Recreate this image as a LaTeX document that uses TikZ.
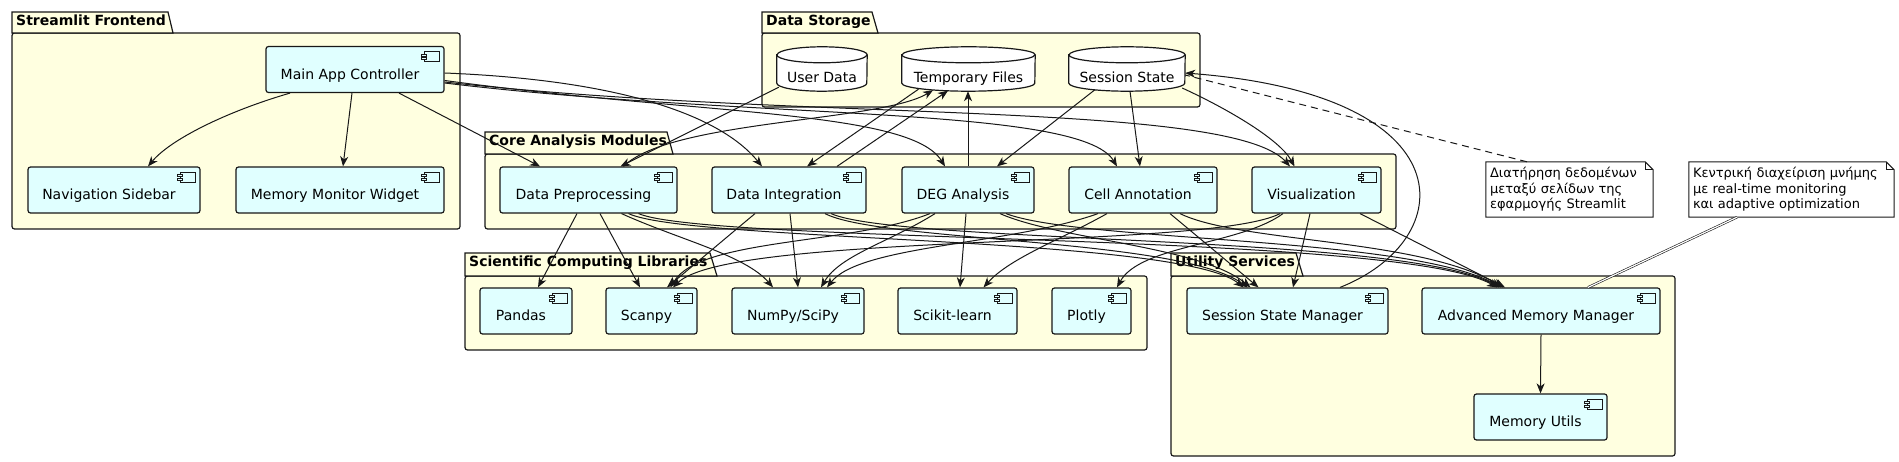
\documentclass[tikz,border=0pt]{standalone}
\usepackage{fontspec}
\setmainfont{DejaVu Sans}
\usetikzlibrary{arrows.meta,backgrounds}

\definecolor{pkgfill}{HTML}{FFFFE0}
\definecolor{compfill}{HTML}{E0FFFF}
\definecolor{linec}{HTML}{181818}

\tikzset{
 pkgbox/.style={draw=linec,line width=1.2pt,fill=pkgfill},
 pkgtitle/.style={font=\fontsize{14pt}{16pt}\selectfont\bfseries,inner sep=0pt,anchor=base west},
 icon/.style={draw=linec,line width=0.8pt,fill=compfill,sharp corners},
 comp/.style={draw=linec,line width=1.2pt,fill=compfill,rounded corners=2.5pt,inner sep=3pt,
  minimum height=46pt,text height=19.5pt,text depth=0pt,font=\fontsize{14pt}{16pt}\selectfont,
  execute at begin node={\hspace*{-10pt}},
  path picture={
   \draw[icon] ([xshift=-20pt,yshift=-5pt]path picture bounding box.north east) rectangle ([xshift=-5pt,yshift=-15pt]path picture bounding box.north east);
   \draw[icon] ([xshift=-22.5pt,yshift=-7.5pt]path picture bounding box.north east) rectangle ([xshift=-17.5pt,yshift=-9.5pt]path picture bounding box.north east);
   \draw[icon] ([xshift=-22.5pt,yshift=-11pt]path picture bounding box.north east) rectangle ([xshift=-17.5pt,yshift=-13pt]path picture bounding box.north east);
  }},
 dbtext/.style={inner sep=3pt,minimum height=44pt,text height=28pt,text depth=0pt,font=\fontsize{14pt}{16pt}\selectfont},
 dbline/.style={draw=linec,line width=1.2pt,fill=white},
 notebox/.style={fill=white,inner ysep=0pt,inner xsep=4pt,align=left,minimum height=55pt,font=\fontsize{13pt}{15.5pt}\selectfont},
 noteline/.style={draw=linec,line width=1pt},
 dep/.style={draw=linec,line width=1pt,-{Stealth[length=10pt,width=8pt,inset=3pt]}},
}

\begin{document}
\begin{tikzpicture}[x=1pt,y=-1pt]
\useasboundingbox (0,0) rectangle (1899,462);

\begin{scope}[on background layer]
\draw[pkgbox,rounded corners=2.5pt] (12,33) rectangle (460,229);
\draw[pkgbox] (12,33) -- (12,12) -- (168,12) -- (173,33) -- cycle;
\draw[pkgbox,rounded corners=2.5pt] (762,33) rectangle (1200,107);
\draw[pkgbox] (762,33) -- (762,12) -- (872,12) -- (878,33) -- cycle;
\draw[pkgbox,rounded corners=2.5pt] (485,154) rectangle (1396,229);
\draw[pkgbox] (485,154) -- (485,132) -- (667,132) -- (673,154) -- cycle;
\draw[pkgbox,rounded corners=2.5pt] (465,276) rectangle (1147,350);
\draw[pkgbox] (465,276) -- (465,253) -- (710,253) -- (717,276) -- cycle;
\draw[pkgbox,rounded corners=2.5pt] (1171,276) rectangle (1675,456);
\draw[pkgbox] (1171,276) -- (1171,253) -- (1296,253) -- (1303,276) -- cycle;
\end{scope}

\node[pkgtitle] (tfrontend) at (16,26) {Streamlit Frontend};
\node[pkgtitle] (tstorage) at (766,26) {Data Storage};
\node[pkgtitle] (tcore) at (489,146) {Core Analysis Modules};
\node[pkgtitle] (tlibs) at (469,267) {Scientific Computing Libraries};
\node[pkgtitle] (tutil) at (1175,267) {Utility Services};

\node[comp,minimum width=178pt] (mainapp) at (355,69.5) {Main App Controller};
\node[comp,minimum width=172pt] (navbar) at (114,190) {Navigation Sidebar};
\node[comp,minimum width=208pt] (memwidget) at (340,190) {Memory Monitor Widget};

\node[comp,minimum width=177pt] (preproc) at (588.5,190) {Data Preprocessing};
\node[comp,minimum width=154pt] (integ) at (789,190) {Data Integration};
\node[comp,minimum width=132pt] (degmod) at (968,190) {DEG Analysis};
\node[comp,minimum width=148pt] (annot) at (1143,190) {Cell Annotation};
\node[comp,minimum width=129pt] (vizmod) at (1316.5,190) {Visualization};

\node[comp,minimum width=92pt] (pandas) at (526,311) {Pandas};
\node[comp,minimum width=91pt] (scanpy) at (651.5,311) {Scanpy};
\node[comp,minimum width=132pt] (numpy) at (798,311) {NumPy/SciPy};
\node[comp,minimum width=119pt] (sklearn) at (957.5,311) {Scikit-learn};
\node[comp,minimum width=79pt] (plotly) at (1091.5,311) {Plotly};

\node[comp,minimum width=201pt] (sessmgr) at (1287.5,311) {Session State Manager};
\node[comp,minimum width=238pt] (memmgr) at (1541,311) {Advanced Memory Manager};
\node[comp,minimum width=133pt] (memutils) at (1540.5,417) {Memory Utils};

\node[dbtext,minimum width=90pt] (userdata) at (822,69) {User Data};
\node[dbtext,minimum width=133pt] (tmpfiles) at (968.5,69) {Temporary Files};
\node[dbtext,minimum width=116pt] (sessstate) at (1127,69) {Session State};

\begin{scope}[on background layer]
\draw[dbline] ([yshift=-8pt]userdata.north west) -- ([yshift=8pt]userdata.south west) arc[start angle=180,end angle=360,x radius=45pt,y radius=8pt] -- ([yshift=-8pt]userdata.north east) arc[start angle=0,end angle=180,x radius=45pt,y radius=8pt] -- cycle;
\draw[dbline,fill=none] ([yshift=-8pt]userdata.north west) arc[start angle=180,end angle=360,x radius=45pt,y radius=8pt];
\draw[dbline] ([yshift=-8pt]tmpfiles.north west) -- ([yshift=8pt]tmpfiles.south west) arc[start angle=180,end angle=360,x radius=66.5pt,y radius=8pt] -- ([yshift=-8pt]tmpfiles.north east) arc[start angle=0,end angle=180,x radius=66.5pt,y radius=8pt] -- cycle;
\draw[dbline,fill=none] ([yshift=-8pt]tmpfiles.north west) arc[start angle=180,end angle=360,x radius=66.5pt,y radius=8pt];
\draw[dbline] ([yshift=-8pt]sessstate.north west) -- ([yshift=8pt]sessstate.south west) arc[start angle=180,end angle=360,x radius=58pt,y radius=8pt] -- ([yshift=-8pt]sessstate.north east) arc[start angle=0,end angle=180,x radius=58pt,y radius=8pt] -- cycle;
\draw[dbline,fill=none] ([yshift=-8pt]sessstate.north west) arc[start angle=180,end angle=360,x radius=58pt,y radius=8pt];
\end{scope}

\node[notebox,minimum width=167pt,text width=159pt] (note1) at (1569.5,189.5) {Διατήρηση δεδομένων\\μεταξύ σελίδων της\\εφαρμογής Streamlit};
\draw[noteline] (note1.north west) -- ([xshift=-8pt]note1.north east) -- ([yshift=-8pt]note1.north east) -- (note1.south east) -- (note1.south west) -- cycle;
\draw[noteline] ([xshift=-8pt]note1.north east) |- ([yshift=-8pt]note1.north east);
\node[notebox,minimum width=205pt,text width=197pt] (note2) at (1791.5,189.5) {Κεντρική διαχείριση μνήμης\\με real-time monitoring\\και adaptive optimization};
\draw[noteline] (note2.north west) -- ([xshift=-8pt]note2.north east) -- ([yshift=-8pt]note2.north east) -- (note2.south east) -- (note2.south west) -- cycle;
\draw[noteline] ([xshift=-8pt]note2.north east) |- ([yshift=-8pt]note2.north east);

\draw[dep] ([xshift=-65pt]mainapp.south) .. controls (225,112) and (170,140) .. ([xshift=34pt]navbar.north);
\draw[dep] ([xshift=-3pt]mainapp.south) -- ([xshift=3pt]memwidget.north);
\draw[dep] ([xshift=44pt]mainapp.south) -- ([xshift=-48.5pt]preproc.north);
\draw[dep] ([yshift=-3.5pt]mainapp.east) .. controls (620,80) and (720,115) .. ([xshift=-27pt]integ.north);
\draw[dep] ([yshift=-11pt]mainapp.east) .. controls (700,115) and (910,110) .. ([xshift=-23pt]degmod.north);
\draw[dep] ([yshift=-13.5pt]mainapp.east) .. controls (750,120) and (1080,105) .. ([xshift=-26pt]annot.north);
\draw[dep] ([yshift=-12.5pt]mainapp.east) .. controls (800,122) and (1230,100) .. ([xshift=-26.5pt]vizmod.north);

\draw[dep] ([xshift=2pt,yshift=4pt]userdata.south west) -- ([xshift=32pt]preproc.north);
\draw[dep] ([xshift=35pt]preproc.north) .. controls (670,120) and (880,122) .. ([xshift=-35.5pt,yshift=1pt]tmpfiles.south);
\draw[dep] ([xshift=48pt]integ.north) -- ([xshift=-20.5pt,yshift=0.5pt]tmpfiles.south);
\draw[dep] ([xshift=-50pt,yshift=2pt]tmpfiles.south) -- ([xshift=18pt]integ.north);
\draw[dep] (degmod.north) -- (degmod.north |- tmpfiles.south);
\draw[dep] ([xshift=-32pt,yshift=1.5pt]sessstate.south) -- ([xshift=29pt]degmod.north);
\draw[dep] ([xshift=3pt]sessstate.south) -- ([xshift=-3pt]annot.north);
\draw[dep] ([xshift=-3pt,yshift=-19pt]sessstate.east) .. controls (1230,110) and (1280,140) .. ([xshift=-22pt]vizmod.north);
\draw[dep] ([xshift=52.5pt]sessmgr.north) .. controls (1460,240) and (1470,95) .. ([yshift=-4pt]sessstate.east);

\draw[dep] ([xshift=40pt]preproc.south) .. controls (690,242) and (1180,236) .. ([xshift=-44pt]sessmgr.north);
\draw[dep] ([xshift=50pt]preproc.south) .. controls (710,244) and (1400,232) .. ([xshift=-44pt]memmgr.north);
\draw[dep] ([xshift=36pt]integ.south) .. controls (880,242) and (1180,238) .. ([xshift=-40pt]sessmgr.north);
\draw[dep] ([xshift=42pt]integ.south) .. controls (900,244) and (1405,234) .. ([xshift=-42pt]memmgr.north);
\draw[dep] ([xshift=32pt]degmod.south) .. controls (1060,240) and (1200,246) .. ([xshift=-37pt]sessmgr.north);
\draw[dep] ([xshift=38pt]degmod.south) .. controls (1080,242) and (1410,236) .. ([xshift=-40pt]memmgr.north);
\draw[dep] ([xshift=27pt]annot.south) -- ([xshift=-29pt]sessmgr.north);
\draw[dep] ([xshift=37pt]annot.south) .. controls (1240,243) and (1420,238) .. ([xshift=-38pt]memmgr.north);
\draw[dep] ([xshift=-6.5pt]vizmod.south) -- ([xshift=5.5pt]sessmgr.north);
\draw[dep] ([xshift=43.5pt]vizmod.south) -- ([xshift=-36pt]memmgr.north);
\draw[dep] (memmgr.south) -- (memutils.north);

\draw[dep] ([xshift=-11.5pt]preproc.south) -- ([xshift=12pt]pandas.north);
\draw[dep] ([xshift=11.5pt]preproc.south) -- ([xshift=-11.5pt]scanpy.north);
\draw[dep] ([xshift=33pt]preproc.south) .. controls (680,240) and (745,255) .. ([xshift=-25pt]numpy.north);
\draw[dep] ([xshift=-34pt]integ.south) -- ([xshift=15.5pt]scanpy.north);
\draw[dep] ([xshift=1pt]integ.south) -- (numpy.north);
\draw[dep] ([xshift=-38pt]degmod.south) .. controls (850,245) and (700,238) .. ([xshift=19pt]scanpy.north);
\draw[dep] ([xshift=-33pt]degmod.south) .. controls (890,242) and (840,255) .. ([xshift=23pt]numpy.north);
\draw[dep] ([xshift=-2pt]degmod.south) -- ([xshift=2.5pt]sklearn.north);
\draw[dep] ([xshift=-36pt]annot.south) .. controls (1060,240) and (1010,258) .. ([xshift=26pt]sklearn.north);
\draw[dep] ([xshift=-45pt]annot.south) .. controls (1010,245) and (860,245) .. ([xshift=29pt]numpy.north);
\draw[dep] ([xshift=-33.5pt]vizmod.south) .. controls (1240,245) and (1140,245) .. ([xshift=25.5pt]plotly.north);
\draw[dep] ([xshift=-36.5pt]vizmod.south) .. controls (1210,250) and (730,232) .. ([xshift=21.5pt]scanpy.north);

\draw[noteline,dash pattern=on 7pt off 5pt] ([xshift=-42.5pt]note1.north) -- ([yshift=-6pt]sessstate.east);
\draw[linec,double,double distance=1.2pt,line width=0.6pt] ([xshift=-54.5pt]note2.south) -- ([xshift=47pt]memmgr.north);
\end{tikzpicture}
\end{document}
